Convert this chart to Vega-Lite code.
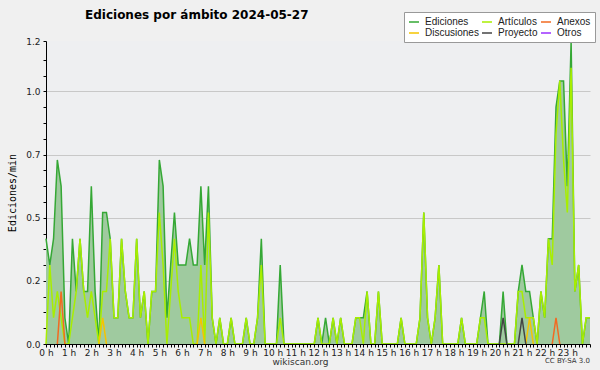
{
  "$schema": "https://vega.github.io/schema/vega-lite/v6.json",
  "width": 544,
  "height": 303,
  "autosize": "none",
  "padding": {"left": 46, "top": 41, "right": 10, "bottom": 26},
  "background": "#f0f0f0",
  "config": {"view": {"fill": "#eeeff1", "stroke": null}, "font": "DejaVu Sans"},
  "title": {"text": "Ediciones por ámbito  2024-05-27", "anchor": "start", "frame": "group", "dx": 39, "dy": 14, "offset": 4, "fontSize": 12, "fontWeight": "bold", "font": "DejaVu Sans", "color": "#000000"},
  "datasets": {
    "main": [
      {"t":0,"Ediciones":0.417,"Artículos":0},{"t":10,"Ediciones":0.313,"Artículos":0.313},{"t":20,"Ediciones":0.417,"Artículos":0.104},{"t":30,"Ediciones":0.729,"Artículos":0.208},{"t":40,"Ediciones":0.625,"Artículos":0.104},{"t":50,"Ediciones":0.104,"Artículos":0},
      {"t":60,"Ediciones":0,"Artículos":0},{"t":70,"Ediciones":0.417,"Artículos":0.104},{"t":80,"Ediciones":0.208,"Artículos":0.208},{"t":90,"Ediciones":0.417,"Artículos":0.417},{"t":100,"Ediciones":0.208,"Artículos":0.208},{"t":110,"Ediciones":0.208,"Artículos":0.104},
      {"t":120,"Ediciones":0.625,"Artículos":0.208},{"t":130,"Ediciones":0.208,"Artículos":0.104},{"t":140,"Ediciones":0,"Artículos":0},{"t":150,"Ediciones":0.521,"Artículos":0.208},{"t":160,"Ediciones":0.521,"Artículos":0.208},{"t":170,"Ediciones":0.417,"Artículos":0.417},
      {"t":180,"Ediciones":0.104,"Artículos":0.104},{"t":190,"Ediciones":0.104,"Artículos":0.104},{"t":200,"Ediciones":0.417,"Artículos":0.417},{"t":210,"Ediciones":0.208,"Artículos":0.208},{"t":220,"Ediciones":0.104,"Artículos":0.104},{"t":230,"Ediciones":0.104,"Artículos":0.104},
      {"t":240,"Ediciones":0.417,"Artículos":0.417},{"t":250,"Ediciones":0.104,"Artículos":0.104},{"t":260,"Ediciones":0.208,"Artículos":0.208},{"t":270,"Ediciones":0,"Artículos":0},{"t":280,"Ediciones":0.208,"Artículos":0.208},{"t":290,"Ediciones":0.208,"Artículos":0.208},
      {"t":300,"Ediciones":0.729,"Artículos":0.521},{"t":310,"Ediciones":0.625,"Artículos":0.313},{"t":320,"Ediciones":0.104,"Artículos":0},{"t":330,"Ediciones":0.313,"Artículos":0.208},{"t":340,"Ediciones":0.521,"Artículos":0.417},{"t":350,"Ediciones":0.313,"Artículos":0.208},
      {"t":360,"Ediciones":0.313,"Artículos":0.104},{"t":370,"Ediciones":0.313,"Artículos":0.104},{"t":380,"Ediciones":0.417,"Artículos":0.104},{"t":390,"Ediciones":0.313,"Artículos":0},{"t":400,"Ediciones":0.313,"Artículos":0},{"t":410,"Ediciones":0.625,"Artículos":0.313},
      {"t":420,"Ediciones":0.313,"Artículos":0},{"t":430,"Ediciones":0.625,"Artículos":0.521},{"t":440,"Ediciones":0.104,"Artículos":0.104},{"t":450,"Ediciones":0,"Artículos":0},{"t":460,"Ediciones":0.104,"Artículos":0.104},{"t":470,"Ediciones":0,"Artículos":0},
      {"t":480,"Ediciones":0,"Artículos":0},{"t":490,"Ediciones":0.104,"Artículos":0.104},{"t":500,"Ediciones":0,"Artículos":0},{"t":510,"Ediciones":0,"Artículos":0},{"t":520,"Ediciones":0,"Artículos":0},{"t":530,"Ediciones":0.104,"Artículos":0.104},
      {"t":540,"Ediciones":0,"Artículos":0},{"t":550,"Ediciones":0,"Artículos":0},{"t":560,"Ediciones":0.104,"Artículos":0.104},{"t":570,"Ediciones":0.417,"Artículos":0.313},{"t":580,"Ediciones":0,"Artículos":0},{"t":590,"Ediciones":0,"Artículos":0},
      {"t":600,"Ediciones":0,"Artículos":0},{"t":610,"Ediciones":0,"Artículos":0},{"t":620,"Ediciones":0.313,"Artículos":0.104},{"t":630,"Ediciones":0,"Artículos":0},{"t":640,"Ediciones":0,"Artículos":0},{"t":650,"Ediciones":0,"Artículos":0},
      {"t":660,"Ediciones":0,"Artículos":0},{"t":670,"Ediciones":0,"Artículos":0},{"t":680,"Ediciones":0,"Artículos":0},{"t":690,"Ediciones":0,"Artículos":0},{"t":700,"Ediciones":0,"Artículos":0},{"t":710,"Ediciones":0,"Artículos":0},
      {"t":720,"Ediciones":0.104,"Artículos":0.104},{"t":730,"Ediciones":0,"Artículos":0},{"t":740,"Ediciones":0.104,"Artículos":0},{"t":750,"Ediciones":0,"Artículos":0},{"t":760,"Ediciones":0.104,"Artículos":0.104},{"t":770,"Ediciones":0,"Artículos":0},
      {"t":780,"Ediciones":0.104,"Artículos":0.104},{"t":790,"Ediciones":0,"Artículos":0},{"t":800,"Ediciones":0,"Artículos":0},{"t":810,"Ediciones":0,"Artículos":0},{"t":820,"Ediciones":0.104,"Artículos":0.104},{"t":830,"Ediciones":0.104,"Artículos":0.104},
      {"t":840,"Ediciones":0.104,"Artículos":0},{"t":850,"Ediciones":0.208,"Artículos":0.208},{"t":860,"Ediciones":0,"Artículos":0},{"t":870,"Ediciones":0,"Artículos":0},{"t":880,"Ediciones":0.208,"Artículos":0.208},{"t":890,"Ediciones":0,"Artículos":0},
      {"t":900,"Ediciones":0,"Artículos":0},{"t":910,"Ediciones":0,"Artículos":0},{"t":920,"Ediciones":0,"Artículos":0},{"t":930,"Ediciones":0,"Artículos":0},{"t":940,"Ediciones":0.104,"Artículos":0.104},{"t":950,"Ediciones":0,"Artículos":0},
      {"t":960,"Ediciones":0,"Artículos":0},{"t":970,"Ediciones":0,"Artículos":0},{"t":980,"Ediciones":0,"Artículos":0},{"t":990,"Ediciones":0.104,"Artículos":0.104},{"t":1000,"Ediciones":0.521,"Artículos":0.521},{"t":1010,"Ediciones":0.104,"Artículos":0.104},
      {"t":1020,"Ediciones":0,"Artículos":0},{"t":1030,"Ediciones":0.104,"Artículos":0.104},{"t":1040,"Ediciones":0.313,"Artículos":0.313},{"t":1050,"Ediciones":0,"Artículos":0},{"t":1060,"Ediciones":0,"Artículos":0},{"t":1070,"Ediciones":0,"Artículos":0},
      {"t":1080,"Ediciones":0,"Artículos":0},{"t":1090,"Ediciones":0,"Artículos":0},{"t":1100,"Ediciones":0.104,"Artículos":0.104},{"t":1110,"Ediciones":0,"Artículos":0},{"t":1120,"Ediciones":0,"Artículos":0},{"t":1130,"Ediciones":0,"Artículos":0},
      {"t":1140,"Ediciones":0,"Artículos":0},{"t":1150,"Ediciones":0.104,"Artículos":0.104},{"t":1160,"Ediciones":0.208,"Artículos":0.104},{"t":1170,"Ediciones":0,"Artículos":0},{"t":1180,"Ediciones":0,"Artículos":0},{"t":1190,"Ediciones":0,"Artículos":0},
      {"t":1200,"Ediciones":0,"Artículos":0},{"t":1210,"Ediciones":0.208,"Artículos":0},{"t":1220,"Ediciones":0,"Artículos":0},{"t":1230,"Ediciones":0,"Artículos":0},{"t":1240,"Ediciones":0,"Artículos":0},{"t":1250,"Ediciones":0.208,"Artículos":0.208},
      {"t":1260,"Ediciones":0.313,"Artículos":0.208},{"t":1270,"Ediciones":0.208,"Artículos":0.104},{"t":1280,"Ediciones":0.208,"Artículos":0.104},{"t":1290,"Ediciones":0.104,"Artículos":0.104},{"t":1300,"Ediciones":0,"Artículos":0},{"t":1310,"Ediciones":0.208,"Artículos":0.208},
      {"t":1320,"Ediciones":0.104,"Artículos":0.104},{"t":1330,"Ediciones":0.417,"Artículos":0.417},{"t":1340,"Ediciones":0.417,"Artículos":0.313},{"t":1350,"Ediciones":0.938,"Artículos":0.833},{"t":1360,"Ediciones":1.042,"Artículos":1.042},{"t":1370,"Ediciones":1.042,"Artículos":0.729},
      {"t":1380,"Ediciones":0.625,"Artículos":0.521},{"t":1390,"Ediciones":1.198,"Artículos":1.094},{"t":1400,"Ediciones":0.208,"Artículos":0.208},{"t":1410,"Ediciones":0.313,"Artículos":0.313},{"t":1420,"Ediciones":0,"Artículos":0},{"t":1430,"Ediciones":0.104,"Artículos":0.104},
      {"t":1440,"Ediciones":0.104,"Artículos":0.104}
    ],
    "sparse": [
      {"t":30,"s":"Anexos","v":0,"g":"an1"},{"t":40,"s":"Anexos","v":0.208,"g":"an1"},{"t":50,"s":"Anexos","v":0,"g":"an1"},
      {"t":1340,"s":"Anexos","v":0,"g":"an2"},{"t":1350,"s":"Anexos","v":0.104,"g":"an2"},{"t":1360,"s":"Anexos","v":0,"g":"an2"},
      {"t":140,"s":"Discusiones","v":0,"g":"d1"},{"t":150,"s":"Discusiones","v":0.104,"g":"d1"},{"t":160,"s":"Discusiones","v":0,"g":"d1"},
      {"t":400,"s":"Discusiones","v":0,"g":"d2"},{"t":410,"s":"Discusiones","v":0.104,"g":"d2"},{"t":420,"s":"Discusiones","v":0,"g":"d2"},
      {"t":1270,"s":"Discusiones","v":0,"g":"d3"},{"t":1280,"s":"Discusiones","v":0.104,"g":"d3"},{"t":1290,"s":"Discusiones","v":0,"g":"d3"},
      {"t":1200,"s":"Proyecto","v":0,"g":"p1"},{"t":1210,"s":"Proyecto","v":0.104,"g":"p1"},{"t":1220,"s":"Proyecto","v":0,"g":"p1"},
      {"t":1250,"s":"Proyecto","v":0,"g":"p2"},{"t":1260,"s":"Proyecto","v":0.104,"g":"p2"},{"t":1270,"s":"Proyecto","v":0,"g":"p2"}
    ],
    "credit": [{"t":1440,"v":0,"label":"CC BY-SA 3.0"}]
  },
  "encoding": {
    "x": {
      "field": "t", "type": "quantitative",
      "scale": {"domain": [0, 1440], "nice": false, "zero": false},
      "axis": {
        "values": [0,10,20,30,40,50,60,70,80,90,100,110,120,130,140,150,160,170,180,190,200,210,220,230,240,250,260,270,280,290,300,310,320,330,340,350,360,370,380,390,400,410,420,430,440,450,460,470,480,490,500,510,520,530,540,550,560,570,580,590,600,610,620,630,640,650,660,670,680,690,700,710,720,730,740,750,760,770,780,790,800,810,820,830,840,850,860,870,880,890,900,910,920,930,940,950,960,970,980,990,1000,1010,1020,1030,1040,1050,1060,1070,1080,1090,1100,1110,1120,1130,1140,1150,1160,1170,1180,1190,1200,1210,1220,1230,1240,1250,1260,1270,1280,1290,1300,1310,1320,1330,1340,1350,1360,1370,1380,1390,1400,1410,1420,1430,1440],
        "labelExpr": "(datum.value % 60 === 0 && datum.value < 1440) ? (datum.value / 60) + ' h' : ''",
        "labelOverlap": false, "labelFlush": false,
        "labelFontSize": 9, "labelColor": "#222222", "labelPadding": 1,
        "domainColor": "#000000", "tickColor": "#000000", "tickSize": 3, "grid": false, "zindex": 1,
        "title": "wikiscan.org", "titleFontSize": 9, "titleFontWeight": "normal", "titleColor": "#333333",
        "titleX": 254, "titleY": 17, "titleBaseline": "middle", "titleAlign": "center"
      }
    },
    "y": {
      "field": "v", "type": "quantitative",
      "scale": {"domain": [0, 1.2], "nice": false, "zero": true},
      "axis": {
        "values": [0,0.0625,0.125,0.1875,0.25,0.3125,0.375,0.4375,0.5,0.5625,0.625,0.6875,0.75,0.8125,0.875,0.9375,1,1.0625,1.125,1.2],
        "labelExpr": "datum.value === 1.2 ? '1.2' : (datum.value % 0.25 === 0 ? format(floor(datum.value * 10) / 10, '.1f') : '')",
        "labelOverlap": false, "labelFlush": false,
        "labelFontSize": 9, "labelColor": "#222222", "labelPadding": 3,
        "domainColor": "#000000", "tickColor": "#000000", "tickSize": 3,
        "grid": true, "gridColor": "#c8c8c8",
        "gridOpacity": {"condition": {"test": "datum.value % 0.25 === 0 && datum.value > 0", "value": 1}, "value": 0},
        "title": "Ediciones/min", "titleFont": "DejaVu Sans Mono", "titleFontSize": 10, "titleFontWeight": "normal", "titleColor": "#000000", "titlePadding": 8
      }
    },
    "color": {
      "field": "s", "type": "nominal",
      "scale": {"domain": ["Ediciones", "Artículos", "Anexos", "Discusiones", "Proyecto", "Otros"], "range": ["#35a835", "#a8ee00", "#f26a21", "#f5c400", "#444444", "#9b30ff"]},
      "legend": {
        "orient": "none", "legendX": 358, "legendY": -29, "columns": 3, "direction": "horizontal", "title": null,
        "symbolType": "stroke", "symbolSize": 100, "symbolStrokeWidth": 1.5,
        "labelFontSize": 10, "labelFont": "Liberation Sans", "labelColor": "#222222", "labelOffset": 5,
        "fillColor": "#ffffff", "strokeColor": "#999999", "padding": 4, "rowPadding": -2, "columnPadding": 0
      }
    }
  },
  "layer": [
    {
      "data": {"name": "main"},
      "transform": [{"fold": ["Ediciones"], "as": ["s", "v"]}],
      "mark": {"type": "area", "opacity": 1},
      "encoding": {"color": {"value": "#9fca9f"}}
    },
    {
      "data": {"name": "main"},
      "transform": [{"fold": ["Ediciones"], "as": ["s", "v"]}],
      "mark": {"type": "line", "strokeWidth": 1.5}
    },
    {
      "data": {"name": "main"},
      "transform": [{"fold": ["Artículos"], "as": ["s", "v"]}],
      "mark": {"type": "line", "strokeWidth": 1.5}
    },
    {
      "data": {"name": "sparse"},
      "mark": {"type": "line", "strokeWidth": 1.5},
      "encoding": {"detail": {"field": "g", "type": "nominal"}}
    },
    {
      "data": {"name": "credit"},
      "mark": {"type": "text", "align": "right", "baseline": "middle", "dy": 17, "fontSize": 7, "font": "DejaVu Sans"},
      "encoding": {"text": {"field": "label"}, "color": {"value": "#333333"}}
    }
  ]
}
